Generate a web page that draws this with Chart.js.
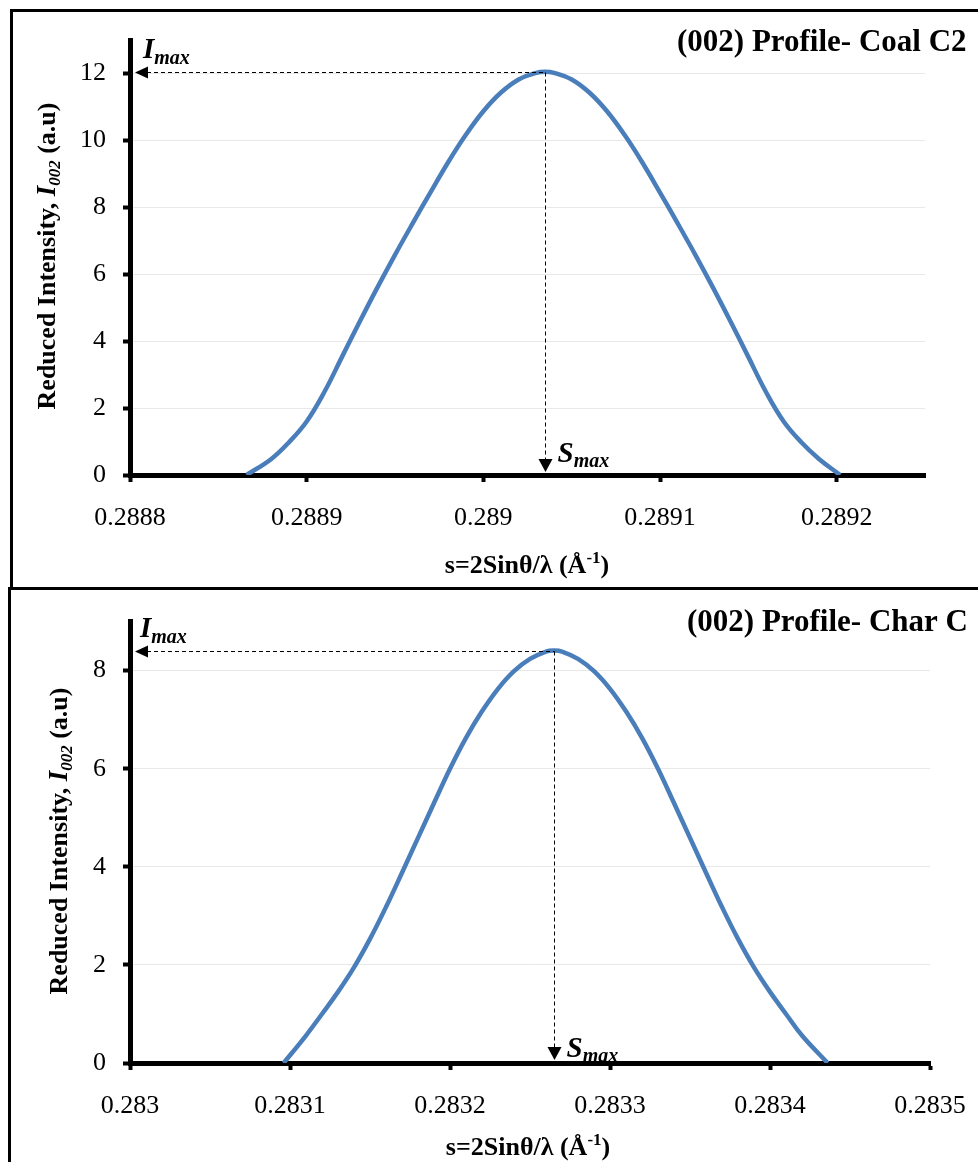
<!DOCTYPE html>
<html><head><meta charset="utf-8">
<script src="https://cdn.jsdelivr.net/npm/chart.js@4.4.1/dist/chart.umd.min.js"></script>
<style>
html,body{margin:0;padding:0;background:#fff;width:978px;height:1162px;overflow:hidden;position:relative}
.frame{position:absolute;box-sizing:border-box;border:3px solid #000;}
canvas{position:absolute;left:0}
</style></head><body>
<div class="frame" style="left:10px;top:9px;width:1100px;height:581px"></div>
<div class="frame" style="left:8px;top:587px;width:1100px;height:700px"></div>
<canvas id="c1" width="1000" height="589" style="top:0"></canvas>
<canvas id="c2" width="1000" height="600" style="top:589px"></canvas>
<script>
// ---------- data ----------
const coalS = [0.288866, 0.28888, 0.28889, 0.28890, 0.28891, 0.28892, 0.28893, 0.28894, 0.28895, 0.28896, 0.28897, 0.28898, 0.28899, 0.28900, 0.28901, 0.28902, 0.28903, 0.289035,
               0.28904, 0.28905, 0.28906, 0.28907, 0.28908, 0.28909, 0.28910, 0.28911, 0.28912, 0.28913, 0.28914, 0.28915, 0.28916, 0.28917, 0.28918, 0.28919, 0.289202];
const coalI = [0, 0.48, 0.98, 1.6, 2.48, 3.53, 4.58, 5.6, 6.58, 7.52, 8.44, 9.34, 10.16, 10.87, 11.43, 11.82, 12.02, 12.05,
               12.02, 11.82, 11.43, 10.87, 10.16, 9.34, 8.44, 7.52, 6.58, 5.6, 4.58, 3.53, 2.48, 1.6, 0.98, 0.48, 0];
const charS = [0.283096, 0.28311, 0.28312, 0.28313, 0.28314, 0.28315, 0.28316, 0.28317, 0.28318, 0.28319, 0.28320, 0.28321, 0.28322, 0.28323, 0.28324, 0.28325, 0.28326, 0.283265,
               0.28327, 0.28328, 0.28329, 0.28330, 0.28331, 0.28332, 0.28333, 0.28334, 0.28335, 0.28336, 0.28337, 0.28338, 0.28339, 0.28340, 0.28341, 0.28342, 0.283436];
const charI = [0, 0.56, 1.0, 1.45, 1.95, 2.53, 3.18, 3.88, 4.59, 5.3, 6.0, 6.63, 7.17, 7.63, 7.99, 8.24, 8.39, 8.41,
               8.39, 8.24, 7.99, 7.63, 7.17, 6.63, 6.0, 5.3, 4.59, 3.88, 3.18, 2.53, 1.95, 1.45, 1.0, 0.56, 0];
const coalXTicks = [0.2888, 0.2889, 0.2890, 0.2891, 0.2892];
const coalXLabels = ['0.2888', '0.2889', '0.289', '0.2891', '0.2892'];
const coalYTicks = [0, 2, 4, 6, 8, 10, 12];
const charXTicks = [0.2830, 0.2831, 0.2832, 0.2833, 0.2834, 0.2835];
const charXLabels = ['0.283', '0.2831', '0.2832', '0.2833', '0.2834', '0.2835'];
const charYTicks = [0, 2, 4, 6, 8];
const coalTitle = '(002) Profile- Coal C2';
const charTitle = '(002) Profile- Char C';
const xTitleParts = [['s=2Sinθ/λ (Å', 0], ['-1', 1], [')', 0]];
const yTitleParts = [['Reduced Intensity, ', 0], ['I', 2], ['002', 3], [' (a.u)', 0]];

// ---------- styling / layout ----------
const FONT = '"Liberation Serif", "Times New Roman", Times, serif';
const BLUE = '#4a7ebb';

function richDraw(ctx, parts, sizes) {
  let total = 0;
  const items = parts.map(([t, k]) => {
    const st = sizes[k];
    ctx.font = st.font;
    const w = ctx.measureText(t).width;
    total += w;
    return {t, st, w};
  });
  let x = -total / 2;
  items.forEach(it => {
    ctx.font = it.st.font;
    ctx.fillText(it.t, x, it.st.dy);
    x += it.w;
  });
}

const annotPlugin = {
  id: 'annot',
  afterDatasetsDraw(chart, args, o) {
    const ctx = chart.ctx, xs = chart.scales.x, ys = chart.scales.y;
    const S = o.S, I = o.I;
    let k = 0;
    for (let i = 1; i < I.length; i++) if (I[i] > I[k]) k = i;
    const px = Math.round(xs.getPixelForValue(S[k])) + 0.5;
    const py = Math.round(ys.getPixelForValue(I[k])) + 0.5;
    const L = chart.chartArea.left, B = chart.chartArea.bottom;
    ctx.save();
    ctx.strokeStyle = '#000'; ctx.lineWidth = 1; ctx.setLineDash([4, 3]);
    ctx.beginPath(); ctx.moveTo(L + 17, py); ctx.lineTo(px, py); ctx.stroke();
    ctx.beginPath(); ctx.moveTo(px, py); ctx.lineTo(px, B - 15); ctx.stroke();
    ctx.setLineDash([]);
    ctx.fillStyle = '#000';
    ctx.beginPath(); ctx.moveTo(L + 5, py); ctx.lineTo(L + 18, py - 6); ctx.lineTo(L + 18, py + 6); ctx.closePath(); ctx.fill();
    ctx.beginPath(); ctx.moveTo(px, B - 3); ctx.lineTo(px - 7, B - 16); ctx.lineTo(px + 7, B - 16); ctx.closePath(); ctx.fill();
    ctx.textAlign = 'left'; ctx.textBaseline = 'alphabetic';
    ctx.font = 'italic bold 29px ' + FONT;
    ctx.fillText('I', o.iX, py - 15);
    let w = ctx.measureText('I').width;
    ctx.font = 'italic bold 20px ' + FONT;
    ctx.fillText('max', o.iX + w, py - 9);
    ctx.font = 'italic bold 29px ' + FONT;
    ctx.fillText('S', px + 12, B - o.sOff);
    w = ctx.measureText('S').width;
    ctx.font = 'italic bold 20px ' + FONT;
    ctx.fillText('max', px + 12 + w, B - o.sOff + 5);
    ctx.restore();
  },
  afterDraw(chart, args, o) {
    const ctx = chart.ctx;
    ctx.save();
    ctx.fillStyle = '#000';
    ctx.font = 'bold 31px ' + FONT;
    ctx.textAlign = 'left'; ctx.textBaseline = 'alphabetic';
    ctx.fillText(o.title, o.titleX, o.titleY);
    ctx.save();
    ctx.translate(o.xtX, o.xtY);
    richDraw(ctx, xTitleParts, [
      {font: 'bold 26px ' + FONT, dy: 0},
      {font: 'bold 17px ' + FONT, dy: -10}
    ]);
    ctx.restore();
    ctx.save();
    ctx.translate(o.ytX, o.ytY);
    ctx.rotate(-Math.PI / 2);
    richDraw(ctx, yTitleParts, [
      {font: 'bold 26px ' + FONT, dy: 0},
      null,
      {font: 'italic bold 27px ' + FONT, dy: 0},
      {font: 'italic bold 17px ' + FONT, dy: 5}
    ]);
    ctx.restore();
    ctx.restore();
  }
};

function makeChart(id, d) {
  return new Chart(document.getElementById(id), {
    type: 'line',
    data: {
      datasets: [{
        data: d.S.map((s, i) => ({x: s, y: d.I[i]})),
        borderColor: BLUE, borderWidth: 4.5, pointRadius: 0,
        tension: 0.4, fill: false
      }]
    },
    options: {
      responsive: false, animation: false, devicePixelRatio: 1,
      layout: {padding: {left: 0, top: d.padTop, right: d.padRight, bottom: 0}},
      plugins: {
        legend: {display: false}, tooltip: {enabled: false}, title: {display: false},
        annot: {S: d.S, I: d.I, iX: d.iX, sOff: d.sOff, title: d.title, titleX: d.titleX, titleY: d.titleY,
                xtX: d.xtX, xtY: d.xtY, ytX: d.ytX, ytY: d.ytY}
      },
      scales: {
        x: {
          type: 'linear', min: d.xMin, max: d.xMax,
          afterBuildTicks: s => { s.ticks = d.xTicks.map(v => ({value: v})); },
          afterFit: s => { s.height = d.xAxisH; },
          ticks: {autoSkip: false, maxRotation: 0, font: {family: FONT, size: 26}, color: '#000', padding: 21,
                  callback: (v, i) => d.xLabels[i]},
          grid: {drawOnChartArea: false, drawTicks: true, tickLength: 7, tickWidth: 4, tickColor: '#000'},
          border: {display: true, color: '#000', width: 5}
        },
        y: {
          type: 'linear', min: 0, max: d.yMax,
          afterBuildTicks: s => { s.ticks = d.yTicks.map(v => ({value: v})); },
          afterFit: s => { s.width = 130; },
          ticks: {font: {family: FONT, size: 26}, color: '#000', padding: 17, callback: v => String(v)},
          grid: {color: '#e8e8e8', lineWidth: 1, drawTicks: true, tickLength: 7, tickWidth: 4, tickColor: '#000'},
          border: {display: true, color: '#000', width: 5}
        }
      }
    },
    plugins: [annotPlugin]
  });
}

makeChart('c1', {
  S: coalS, I: coalI, xMin: 0.2888, xMax: 0.28925, yMax: 13,
  xTicks: coalXTicks, xLabels: coalXLabels, yTicks: coalYTicks,
  padTop: 40, padRight: 75, xAxisH: 114,
  iX: 143, sOff: 13, title: coalTitle, titleX: 677, titleY: 51,
  xtX: 527, xtY: 573, ytX: 55, ytY: 256
});
makeChart('c2', {
  S: charS, I: charI, xMin: 0.2830, xMax: 0.2835, yMax: 9,
  xTicks: charXTicks, xLabels: charXLabels, yTicks: charYTicks,
  padTop: 31, padRight: 70, xAxisH: 126,
  iX: 140, sOff: 6, title: charTitle, titleX: 687, titleY: 42,
  xtX: 528, xtY: 566, ytX: 67, ytY: 252
});
</script>
</body></html>
